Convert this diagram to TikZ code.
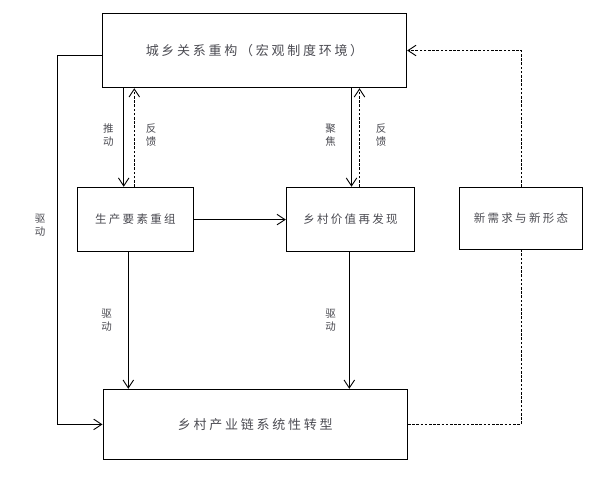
\documentclass[tikz,border=0pt]{standalone}
\usepackage{fontspec}
\newfontfamily\cjk{Noto Sans CJK SC}
\newfontfamily\cjkbig[LetterSpace=21]{Noto Sans CJK SC}
\newfontfamily\cjkmid[LetterSpace=20]{Noto Sans CJK SC}
\usetikzlibrary{arrows.meta}
\definecolor{txt}{RGB}{75,75,82}
\begin{document}
\begin{tikzpicture}[x=1pt,y=-1pt,
  box/.style={draw,line width=1pt,inner sep=0pt,text=txt},
  bigtext/.style={font=\cjkbig\fontsize{13}{15}\selectfont},
  midtext/.style={font=\cjkmid\fontsize{11.5}{13}\selectfont},
  lbl/.style={text=txt,inner sep=0pt,align=center,font=\cjk\fontsize{10.5}{13.4}\selectfont},
  arr/.style={line width=0.9pt,-{Straight Barb[length=8pt,width=10.5pt,line width=0.9pt]}},
  darr/.style={arr,dash pattern=on 2.6pt off 1.6pt},
  dline/.style={line width=0.9pt,dash pattern=on 2.6pt off 1.6pt}]
\useasboundingbox (0,0) rectangle (594,493);

\node[box,bigtext,minimum width=304.4pt,minimum height=74.4pt] (top) at (254.5,50.5) {城乡关系重构（宏观制度环境）};
\node[box,midtext,minimum width=115.8pt,minimum height=64.7pt] (lft) at (135.4,219.6) {生产要素重组};
\node[box,midtext,minimum width=128.4pt,minimum height=64.7pt] (mid) at (350.5,219.6) {乡村价值再发现};
\node[box,midtext,minimum width=123.4pt,minimum height=62pt] (rgt) at (521,218.3) {新需求与新形态};
\node[box,bigtext,minimum width=304.5pt,minimum height=70.2pt] (bot) at (255.25,424.4) {乡村产业链系统性转型};

\coordinate (a1) at (123.7,0);
\coordinate (a2) at (134.3,0);
\coordinate (b1) at (351.5,0);
\coordinate (b2) at (359.5,0);
\coordinate (c1) at (128.3,0);
\coordinate (c2) at (349.3,0);

\draw[arr] (top.south -| a1) -- (lft.north -| a1);
\draw[darr] (lft.north -| a2) -- (top.south -| a2);
\draw[arr] (top.south -| b1) -- (mid.north -| b1);
\draw[darr] (mid.north -| b2) -- (top.south -| b2);
\draw[arr] (lft.east) -- (mid.west);
\draw[arr] (lft.south -| c1) -- (bot.north -| c1);
\draw[arr] (mid.south -| c2) -- (bot.north -| c2);
\draw[arr] ([yshift=-4.5pt]top.west) -- ++(-44.3,0) |- (bot.west);
\draw[darr] (rgt.north) |- (top.east);
\draw[dline] (bot.east) -| (rgt.south);

\node[lbl] (l1) at (108.3,135) {推\\动};
\node[lbl] (l2) at (151,135) {反\\馈};
\node[lbl] (l3) at (330.7,135) {聚\\焦};
\node[lbl] (l4) at (381,135) {反\\馈};
\node[lbl] (l5) at (106.7,320.5) {驱\\动};
\node[lbl] (l6) at (330.7,320.5) {驱\\动};
\node[lbl] (l7) at (40,225) {驱\\动};
\end{tikzpicture}
\end{document}
